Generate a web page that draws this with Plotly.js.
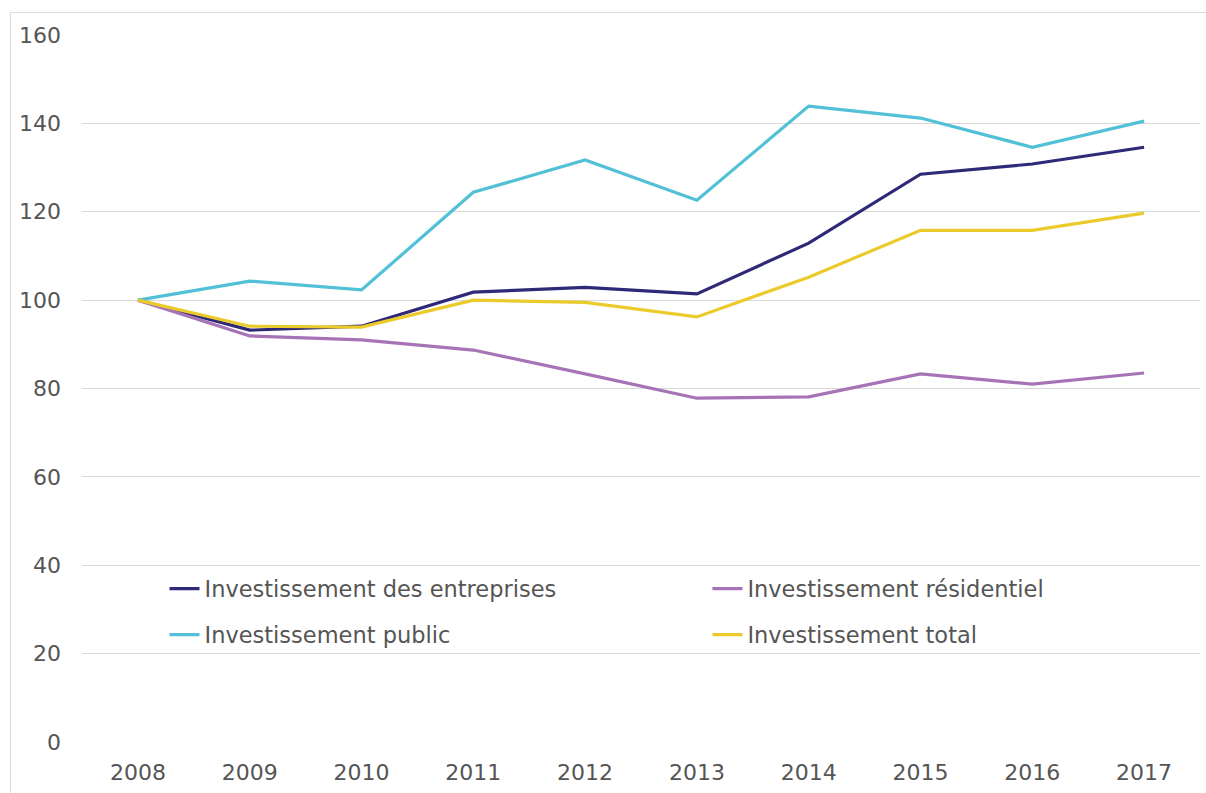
<!DOCTYPE html>
<html>
<head>
<meta charset="utf-8">
<script src="https://cdn.plot.ly/plotly-3.0.1.min.js"></script>
<style>
html,body{margin:0;padding:0;background:#fff;}
#frame{position:absolute;left:10px;top:12px;width:1200px;height:800px;border-left:1px solid #dcdcdc;border-top:1px solid #dcdcdc;pointer-events:none;}
#chart{position:absolute;left:0;top:0;width:1206px;height:793px;}
</style>
</head>
<body>
<div id="chart"></div>
<div id="frame"></div>
<script>
const years = ['2008','2009','2010','2011','2012','2013','2014','2015','2016','2017'];
const entreprises = [100, 93.2, 94.1, 101.8, 102.9, 101.4, 112.9, 128.5, 130.8, 134.6];
const residentiel = [100, 91.9, 91.0, 88.7, 83.3, 77.8, 78.1, 83.3, 81.0, 83.5];
const publicInv = [100, 104.3, 102.3, 124.4, 131.7, 122.6, 143.9, 141.2, 134.6, 140.5];
const total = [100, 94.1, 93.9, 100.0, 99.5, 96.2, 105.2, 115.8, 115.8, 119.7];
const yTicks = [0, 20, 40, 60, 80, 100, 120, 140, 160];

const font = '"DejaVu Sans", sans-serif';
function tr(name, y, color, lg){
  return {x: years, y: y, name: name, type: 'scatter', mode: 'lines', legend: lg,
    line: {color: color, width: 3.2}};
}
const data = [
  tr('Investissement des entreprises', entreprises, '#2e2a78', 'legend'),
  tr('Investissement résidentiel', residentiel, '#a674b6', 'legend2'),
  tr('Investissement public', publicInv, '#52c0d6', 'legend3'),
  tr('Investissement total', total, '#ebcb2c', 'legend4')
];
function lg(x, y){
  return {orientation: 'v', x: x, y: y, xanchor: 'left', yanchor: 'middle',
    font: {family: font, size: 22.5, color: '#555555'}, bgcolor: 'rgba(0,0,0,0)',
    itemwidth: 30};
}
const layout = {
  width: 1206, height: 793,
  margin: {l: 82, r: 6, t: 35, b: 51},
  paper_bgcolor: 'rgba(0,0,0,0)', plot_bgcolor: 'rgba(0,0,0,0)',
  font: {family: font, size: 22, color: '#555555'},
  showlegend: true,
  legend: lg(0.0738, 0.2164),
  legend2: lg(0.5594, 0.2164),
  legend3: lg(0.0738, 0.1513),
  legend4: lg(0.5594, 0.1513),
  xaxis: {type: 'category', range: [-0.5, 9.5], showgrid: false, zeroline: false,
    showline: false, ticks: '', ticklabelstandoff: 15, tickfont: {size: 22, color: '#555555'}, fixedrange: true},
  yaxis: {range: [0, 160], tickvals: yTicks, ticktext: yTicks.map(String),
    showgrid: true, gridcolor: '#d9d9d9', gridwidth: 1, zeroline: false, showline: false,
    ticks: '', ticklabelstandoff: 20, tickfont: {size: 22, color: '#555555'}, fixedrange: true}
};
Plotly.newPlot('chart', data, layout, {displayModeBar: false, staticPlot: true});
</script>
</body>
</html>
